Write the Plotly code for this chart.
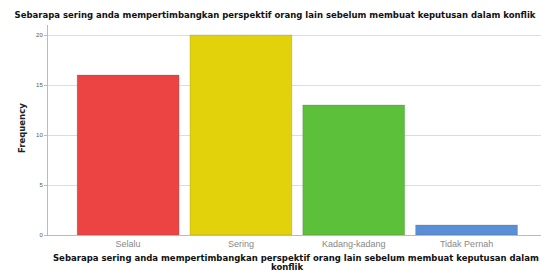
import plotly.graph_objects as go

categories = ["Selalu", "Sering", "Kadang-kadang", "Tidak Pernah"]
frequency = [16, 20, 13, 1]
colors = ["#ec4343", "#e2d20c", "#5cc03a", "#5a8fd8"]
y_ticks = [0, 5, 10, 15, 20]

title_text = "Sebarapa sering anda mempertimbangkan perspektif orang lain sebelum membuat keputusan dalam konflik"
xtitle_line1 = "Sebarapa sering anda mempertimbangkan perspektif orang lain sebelum membuat keputusan dalam"
xtitle_line2 = "konflik"
ytitle = "Frequency"

W, H = 541, 271
L, R, T, B = 48, 0, 25, 36
PW, PH = W - L - R, H - T - B

def px(x):
    return (x - L) / PW

def py(y):
    return (H - B - y) / PH

bold_font = "DejaVu Sans, Verdana, sans-serif"

fig = go.Figure(go.Bar(
    x=categories, y=frequency,
    marker=dict(color=colors, line=dict(color="rgba(80,80,80,0.35)", width=0.6)),
))

fig.update_layout(
    width=W, height=H,
    margin=dict(l=L, r=R, t=T, b=B, autoexpand=False),
    paper_bgcolor="white", plot_bgcolor="white",
    bargap=0.097,
    showlegend=False,
    font=dict(family="Liberation Sans, Arial, sans-serif", color="#333"),
    title=dict(text="<b>" + title_text + "</b>", x=275 / W, xanchor="center",
               y=1 - 15 / H, yanchor="middle", xref="container", yref="container",
               font=dict(family=bold_font, size=8.5, color="#111")),
    annotations=[
        dict(text="<b>" + xtitle_line1 + "</b>", x=px(296), y=py(258), xref="paper", yref="paper",
             showarrow=False, xanchor="center", yanchor="middle",
             font=dict(family=bold_font, size=8.5, color="#111")),
        dict(text="<b>" + xtitle_line2 + "</b>", x=px(287), y=py(266.5), xref="paper", yref="paper",
             showarrow=False, xanchor="center", yanchor="middle",
             font=dict(family=bold_font, size=8.5, color="#111")),
        dict(text="<b>" + ytitle + "</b>", x=px(22), y=py(128), xref="paper", yref="paper",
             showarrow=False, xanchor="center", yanchor="middle", textangle=-90,
             font=dict(family=bold_font, size=8.5, color="#222")),
    ],
)
fig.update_xaxes(
    range=[-0.71, 3.66], automargin=False,
    showline=True, linecolor="#bbb", linewidth=1,
    ticks="", tickfont=dict(size=9, color="#888"),
)
fig.update_yaxes(
    range=[0, 21], tickvals=y_ticks, ticktext=[str(v) for v in y_ticks], automargin=False,
    showline=True, linecolor="#bbb", linewidth=1,
    ticks="outside", ticklen=3, tickcolor="#bbb",
    tickfont=dict(size=6, color="#555"),
    showgrid=True, gridcolor="#ddd", gridwidth=1, zeroline=False,
)

fig.write_html("out.html", config={"displayModeBar": False},
               post_script="document.body.style.margin='0px';document.body.style.overflow='hidden';")
